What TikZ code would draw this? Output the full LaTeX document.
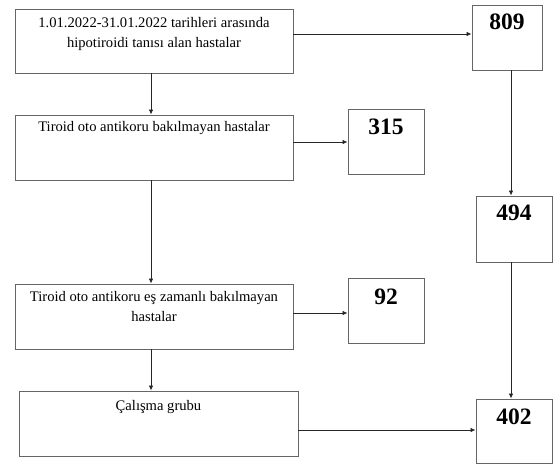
\documentclass[tikz,border=0pt]{standalone}
\usepackage{fontspec}
\setmainfont{Liberation Serif}
\usetikzlibrary{arrows.meta}
\begin{document}
\begin{tikzpicture}[x=1pt,y=-1pt,
  box/.style={draw=black!60, line width=0.9pt, inner sep=0pt},
  txt/.style={font=\fontsize{14.6}{19.5}\selectfont, align=center, inner sep=0pt, anchor=north},
  num/.style={font=\fontsize{23.5}{26}\selectfont\bfseries, inner sep=0pt, anchor=north},
  arr/.style={draw=black!85, line width=0.8pt, -{Latex[length=5pt,width=4.5pt]}}]
\useasboundingbox (0,0) rectangle (553,464);
\node[box, minimum width=278, minimum height=64,
  label={[txt,yshift=-9]north:1.01.2022-31.01.2022 tarihleri arasında\\hipotiroidi tanısı alan hastalar}] (A) at (154,41) {};
\node[box, minimum width=70, minimum height=65, label={[num,yshift=-9]north:809}] (n809) at (507,37.5) {};
\node[box, minimum width=278, minimum height=65,
  label={[txt,yshift=-7]north:Tiroid oto antikoru bakılmayan hastalar}] (B) at (154,147.5) {};
\node[box, minimum width=76, minimum height=65, label={[num,yshift=-10]north:315}] (n315) at (386,141.5) {};
\node[box, minimum width=76, minimum height=66, label={[num,yshift=-9]north:494}] (n494) at (514,229) {};
\node[box, minimum width=278, minimum height=65,
  label={[txt,yshift=-8]north:Tiroid oto antikoru eş zamanlı bakılmayan\\hastalar}] (C) at (154,316.5) {};
\node[box, minimum width=76, minimum height=65, label={[num,yshift=-11]north:92}] (n92) at (386,310.5) {};
\node[box, minimum width=279, minimum height=65,
  label={[txt,yshift=-10]north:Çalışma grubu}] (D) at (158.5,423.5) {};
\node[box, minimum width=76, minimum height=64, label={[num,yshift=-10]north:402}] (n402) at (514,431) {};
\coordinate (vl) at (151,0);
\coordinate (vr) at (511,0);
\draw[arr] ([yshift=7]A.east) -- ([yshift=7]A.east -| n809.west);
\draw[arr] ([yshift=5.5]B.east) -- ([yshift=5.5]B.east -| n315.west);
\draw[arr] ([yshift=3.5]C.east) -- ([yshift=3.5]C.east -| n92.west);
\draw[arr] ([yshift=-6.5]D.east) -- ([yshift=-6.5]D.east -| n402.west);
\draw[arr] (vl |- A.south) -- (vl |- B.north);
\draw[arr] (vl |- B.south) -- (vl |- C.north);
\draw[arr] (vl |- C.south) -- (vl |- D.north);
\draw[arr] (vr |- n809.south) -- (vr |- n494.north);
\draw[arr] (vr |- n494.south) -- (vr |- n402.north);
\end{tikzpicture}
\end{document}
